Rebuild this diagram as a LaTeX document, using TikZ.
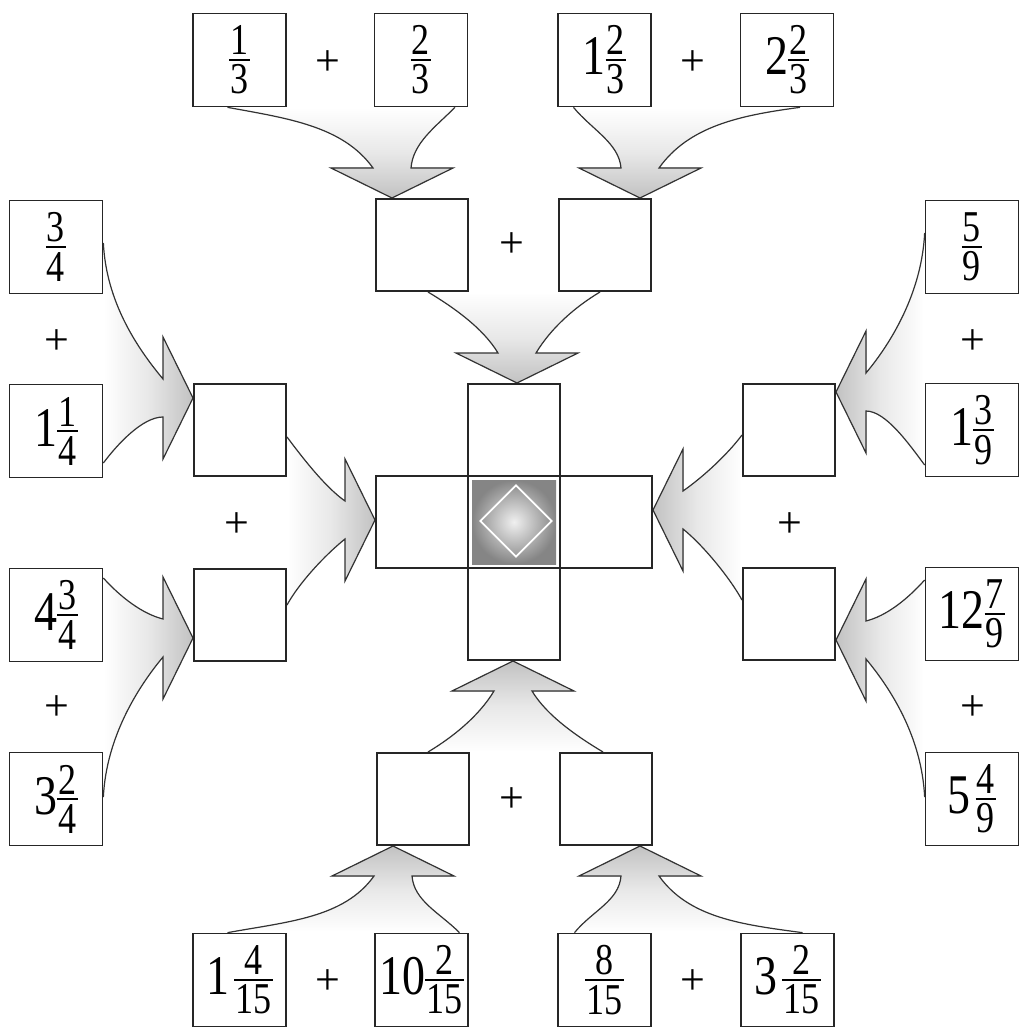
\documentclass[tikz,border=0pt]{standalone}
\usepackage{fontspec}
\setmainfont{Liberation Serif}
\usetikzlibrary{shapes.geometric,backgrounds,calc}
\newcommand\fr[2]{{%
  \setbox0\hbox{\fontsize{44}{44}\selectfont #1}%
  \setbox2\hbox{\fontsize{44}{44}\selectfont #2}%
  \dimen0=\wd0 \ifdim\wd2>\dimen0 \dimen0=\wd2 \fi
  \advance\dimen0 by 3pt
  \lower19pt\vbox{\hbox to\dimen0{\hss\box0\hss}\kern4pt\hrule height 2pt\kern4pt\hbox to\dimen0{\hss\box2\hss}}}}
\newcommand\sq[1]{\scalebox{0.82}[1]{#1}}
\tikzset{
  numbox/.style={draw=black!85, line width=1.7pt, fill=white, minimum size=93pt, inner sep=0pt, font=\fontsize{56}{60}\selectfont},
  emptybox/.style={draw=black!85, line width=2pt, fill=white, minimum size=92pt, inner sep=0pt},
  plussign/.style={font=\fontsize{44}{48}\selectfont, inner sep=0pt},
  arrowline/.style={draw=black!80, line width=1.2pt, line join=miter},
  arrowfill/.style={top color=white, bottom color=black!24, middle color=black!9},
}
% #1 tip, #2 direction angle, #3 source A, #4 its departure vector, #5 arrival vector at notch A,
% #6 source B, #7 its departure vector, #8 arrival vector at notch B
\newcommand\mergearrow[8]{%
  \begin{scope}[shift={#1}, rotate=#2]
    \coordinate (hT) at (0,0);
    \coordinate (hBa) at (-30,61);
    \coordinate (hNa) at (-30,19);
    \coordinate (hNb) at (-30,-19);
    \coordinate (hBb) at (-30,-61);
  \end{scope}
  \pgfmathsetmacro\shang{#2+90}
  \fill[arrowfill, shading angle=\shang] #3 .. controls +#4 and +#5 .. (hNa) -- (hBa) -- (hT) -- (hBb) -- (hNb) .. controls +#8 and +#7 .. #6 -- cycle;
  \draw[white, line width=3pt] #3 -- #6;
  \draw[arrowline] #3 .. controls +#4 and +#5 .. (hNa) -- (hBa) -- (hT) -- (hBb) -- (hNb) .. controls +#8 and +#7 .. #6;
}
\begin{document}
\begin{tikzpicture}[x=1pt, y=-1pt]
\useasboundingbox (0,0) rectangle (1019,1027);
% top row
\node[numbox] (t1) at (239.5,60) {\sq{\fr{1}{3}}};
\node[plussign] (p1) at (328,63) {+};
\node[numbox] (t2) at (421,60) {\sq{\fr{2}{3}}};
\node[numbox] (t3) at (604.5,60) {\sq{1\fr{2}{3}}};
\node[plussign] (p2) at (693,63) {+};
\node[numbox] (t4) at (787,60) {\sq{2\fr{2}{3}}};
% second row
\node[emptybox] (a1) at (422,245) {};
\node[plussign] (p3) at (512,245) {+};
\node[emptybox] (a2) at (605,245) {};
% centre cross
\node[emptybox] (ct) at (514,430) {};
\node[emptybox] (cl) at (422,522) {};
\node[emptybox] (cr) at (606,522) {};
\node[emptybox] (cb) at (514,614) {};
\node[emptybox] (cc) at (514,522) {};
\shade[inner color=black!6, outer color=black!48] ([shift={(5pt,5pt)}]cc.south west) rectangle ([shift={(-5pt,-5pt)}]cc.north east);
\node[diamond, draw=white, line width=1.8pt, minimum size=72pt, inner sep=0pt] (dm) at (516,521) {};
% left column
\node[numbox] (l1) at (56,247) {\sq{\fr{3}{4}}};
\node[plussign] (p4) at (57,342) {+};
\node[numbox] (l2) at (56,431) {\sq{1\fr{1}{4}}};
\node[numbox] (l3) at (56,615) {\sq{4\fr{3}{4}}};
\node[plussign] (p5) at (57,708) {+};
\node[numbox] (l4) at (56,799) {\sq{3\fr{2}{4}}};
\node[emptybox] (lm1) at (240,430) {};
\node[plussign] (p6) at (237,525) {+};
\node[emptybox] (lm2) at (240,615) {};
% right column
\node[numbox] (r1) at (972,247) {\sq{\fr{5}{9}}};
\node[plussign] (p7) at (973,342) {+};
\node[numbox] (r2) at (972,430) {\sq{1\fr{3}{9}}};
\node[numbox] (r3) at (972,614) {\sq{12\fr{7}{9}}};
\node[plussign] (p8) at (973,708) {+};
\node[numbox] (r4) at (972,799) {\sq{5\kern6pt\fr{4}{9}}};
\node[emptybox] (rm1) at (789,430) {};
\node[plussign] (p9) at (790,525) {+};
\node[emptybox] (rm2) at (789,614) {};
% bottom
\node[emptybox] (b1) at (423,799) {};
\node[plussign] (p10) at (512,800) {+};
\node[emptybox] (b2) at (606,799) {};
\node[numbox] (bb1) at (239.5,980) {\sq{1\kern6pt\fr{4}{15}}};
\node[plussign] (p11) at (328,982) {+};
\node[numbox] (bb2) at (421.5,980) {\sq{10\fr{2}{15}}};
\node[numbox] (bb3) at (604.5,980) {\sq{\fr{8}{15}}};
\node[plussign] (p12) at (693,982) {+};
\node[numbox] (bb4) at (787.5,980) {\sq{3\kern6pt\fr{2}{15}}};
% merging arrows
\begin{scope}[on background layer]
\fill[white] (0,0) rectangle (1019,1027);
\mergearrow{([xshift=-30pt]a1.north)}{-90}{([xshift=-12pt]t1.south)}{(60,11)}{(-30,-42)}{([xshift=34pt]t2.south)}{(-20,20)}{(2,-25)}
\mergearrow{([xshift=35pt]a2.north)}{-90}{([xshift=-31pt]t3.south)}{(18,22)}{(-2,-25)}{([xshift=13pt]t4.south)}{(-60,8)}{(30,-42)}
\mergearrow{([xshift=3pt]ct.north)}{-90}{([xshift=6pt]a1.south)}{(25,15)}{(-15,-25)}{([xshift=-5pt]a2.south)}{(-25,15)}{(15,-25)}
\mergearrow{([yshift=32pt]lm1.west)}{0}{([yshift=-32pt]l2.east)}{(15,-20)}{(-20,0)}{([yshift=4pt]l1.east)}{(3,60)}{(-25,-30)}
\mergearrow{([yshift=2pt]cl.west)}{0}{([yshift=10pt]lm2.east)}{(12,-22)}{(-20,16)}{([yshift=-7pt]lm1.east)}{(15,20)}{(-20,-14)}
\mergearrow{([yshift=-23pt]lm2.west)}{0}{([yshift=2pt]l4.east)}{(3,-60)}{(-25,30)}{([yshift=37pt]l3.east)}{(18,20)}{(-20,-5)}
\mergearrow{([yshift=38pt]rm1.east)}{180}{([yshift=14pt]r1.west)}{(-3,60)}{(25,-30)}{([yshift=-35pt]r2.west)}{(-15,-20)}{(20,0)}
\mergearrow{([yshift=12pt]cr.east)}{180}{([yshift=-5pt]rm1.west)}{(-15,20)}{(20,-14)}{([yshift=14pt]rm2.west)}{(-12,-22)}{(20,16)}
\mergearrow{([yshift=-26pt]rm2.east)}{180}{([yshift=34pt]r3.west)}{(-18,20)}{(20,-5)}{([yshift=2pt]r4.west)}{(-3,-60)}{(25,30)}
\mergearrow{([xshift=-1pt]cb.south)}{90}{([xshift=-3pt]b2.north)}{(-25,-15)}{(15,25)}{([xshift=5pt]b1.north)}{(25,-15)}{(-15,25)}
\mergearrow{([xshift=-30pt]b1.south)}{90}{([xshift=38pt]bb2.north)}{(-20,-20)}{(2,25)}{([xshift=-12pt]bb1.north)}{(60,-11)}{(-30,42)}
\mergearrow{([xshift=34pt]b2.south)}{90}{([xshift=15pt]bb4.north)}{(-60,-8)}{(30,42)}{([xshift=-30pt]bb3.north)}{(18,-22)}{(-2,25)}
\end{scope}
\end{tikzpicture}
\end{document}
